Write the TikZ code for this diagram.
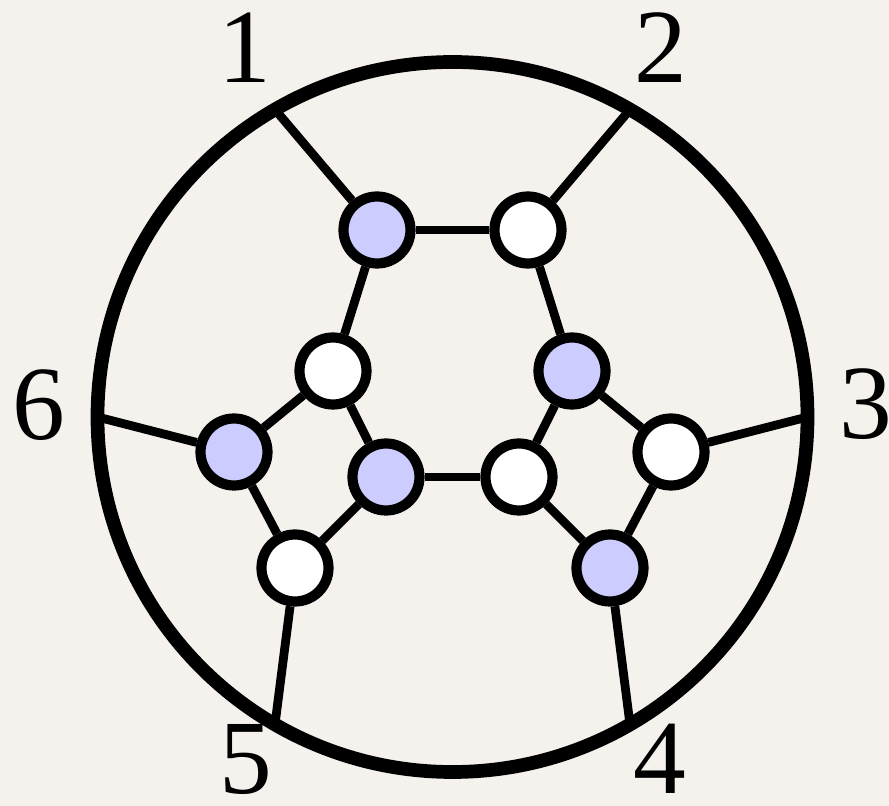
\documentclass[tikz,border=0pt]{standalone}
\usepackage{fontspec}
\setmainfont{Liberation Serif}
\usepackage{xcolor}
\definecolor{paper}{RGB}{245,242,237}
\definecolor{vblue}{RGB}{204,204,255}

\begin{document}
\begin{tikzpicture}[
    vtx/.style={circle, draw, line width=2.9pt, minimum size=0.67cm, inner sep=0pt},
    bvtx/.style={vtx, fill=vblue},
    wvtx/.style={vtx, fill=white},
    leg/.style={line width=2.5pt},
    lbl/.style={inner sep=0pt, font=\fontsize{30}{36}\selectfont}]
  \fill[paper] (-4.525,-3.89) rectangle (4.365,4.17);
  \useasboundingbox (-4.525,-3.89) rectangle (4.365,4.17);
  \draw[line width=3.9pt] (0,0) circle (3.55);
  \foreach \a/\n in {120/1,60/2,0/3,-60/4,-120/5,180/6}
    \coordinate (p\n) at (\a:3.55);
  % vertices
  \node[bvtx] (a) at (-0.755,1.87) {};
  \node[wvtx] (b) at (0.755,1.87) {};
  \node[wvtx] (c) at (-1.195,0.46) {};
  \node[bvtx] (d) at (1.195,0.46) {};
  \node[bvtx] (e) at (-2.185,-0.35) {};
  \node[bvtx] (f) at (-0.665,-0.60) {};
  \node[wvtx] (g) at (0.665,-0.60) {};
  \node[wvtx] (h) at (2.185,-0.35) {};
  \node[wvtx] (i) at (-1.575,-1.51) {};
  \node[bvtx] (j) at (1.575,-1.51) {};
  % internal edges
  \foreach \u/\v in {a/b,a/c,b/d,c/e,c/f,d/g,d/h,f/g,e/i,f/i,g/j,h/j}
    \draw[leg] (\u) -- (\v);
  % external legs
  \foreach \u/\n in {a/1,b/2,h/3,j/4,i/5,e/6}
    \draw[leg] (\u) -- (p\n);
  % labels
  \node[lbl] (l1) at (-2.08,3.69) {1};
  \node[lbl] (l2) at (2.08,3.69) {2};
  \node[lbl] (l3) at (4.135,0.13) {3};
  \node[lbl] (l4) at (2.07,-3.42) {4};
  \node[lbl] (l5) at (-2.07,-3.42) {5};
  \node[lbl] (l6) at (-4.14,0.12) {6};
\end{tikzpicture}
\end{document}
